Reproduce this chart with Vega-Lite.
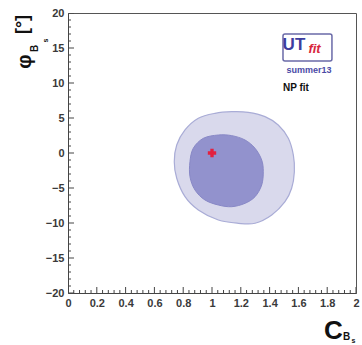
{
  "$schema": "https://vega.github.io/schema/vega-lite/v6.json",
  "width": 288,
  "height": 280,
  "autosize": "none",
  "padding": {"left": 68, "top": 13, "right": 6, "bottom": 52},
  "background": "white",
  "config": {
    "view": {"stroke": "#555555", "strokeWidth": 1},
    "font": "Liberation Sans",
    "axis": {
      "domainColor": "#444444",
      "tickColor": "#444444",
      "labelColor": "#3a3a3a",
      "labelFont": "Liberation Sans",
      "labelFontWeight": "bold",
      "labelFontSize": 11,
      "titleColor": "#111111",
      "titleFont": "Liberation Sans",
      "titleFontWeight": "bold",
      "titleBaseline": "middle",
      "titleAlign": "center",
      "grid": false
    },
    "text": {"font": "Liberation Sans", "fontWeight": "bold", "baseline": "middle", "align": "center"}
  },
  "datasets": {
    "outer": [
      {"c": 1.137, "phi": 5.90, "k": 0},
      {"c": 1.252, "phi": 5.81, "k": 1},
      {"c": 1.368, "phi": 5.19, "k": 2},
      {"c": 1.460, "phi": 4.00, "k": 3},
      {"c": 1.530, "phi": 2.10, "k": 4},
      {"c": 1.565, "phi": -0.29, "k": 5},
      {"c": 1.572, "phi": -2.67, "k": 6},
      {"c": 1.553, "phi": -5.04, "k": 7},
      {"c": 1.507, "phi": -6.96, "k": 8},
      {"c": 1.415, "phi": -8.86, "k": 9},
      {"c": 1.299, "phi": -10.04, "k": 10},
      {"c": 1.183, "phi": -10.04, "k": 11},
      {"c": 1.044, "phi": -9.57, "k": 12},
      {"c": 0.905, "phi": -8.14, "k": 13},
      {"c": 0.8125, "phi": -6.24, "k": 14},
      {"c": 0.755, "phi": -3.61, "k": 15},
      {"c": 0.738, "phi": -1.24, "k": 16},
      {"c": 0.755, "phi": 1.14, "k": 17},
      {"c": 0.8125, "phi": 3.29, "k": 18},
      {"c": 0.905, "phi": 4.96, "k": 19},
      {"c": 1.021, "phi": 5.67, "k": 20}
    ],
    "inner": [
      {"c": 1.044, "phi": 2.57, "k": 0},
      {"c": 1.137, "phi": 2.48, "k": 1},
      {"c": 1.229, "phi": 1.86, "k": 2},
      {"c": 1.299, "phi": 0.67, "k": 3},
      {"c": 1.345, "phi": -1.00, "k": 4},
      {"c": 1.356, "phi": -2.67, "k": 5},
      {"c": 1.345, "phi": -4.57, "k": 6},
      {"c": 1.299, "phi": -6.24, "k": 7},
      {"c": 1.229, "phi": -7.19, "k": 8},
      {"c": 1.137, "phi": -7.67, "k": 9},
      {"c": 1.044, "phi": -7.43, "k": 10},
      {"c": 0.951, "phi": -6.71, "k": 11},
      {"c": 0.882, "phi": -5.29, "k": 12},
      {"c": 0.847, "phi": -3.39, "k": 13},
      {"c": 0.847, "phi": -1.24, "k": 14},
      {"c": 0.870, "phi": 0.67, "k": 15},
      {"c": 0.940, "phi": 2.10, "k": 16}
    ],
    "best": [{"c": 1.0, "phi": 0.0}],
    "logo": [{"c0": 1.493, "c1": 1.833, "p0": 13.14, "p1": 17.0}],
    "cTicksMajor": [{"v": 0}, {"v": 0.2}, {"v": 0.4}, {"v": 0.6}, {"v": 0.8}, {"v": 1}, {"v": 1.2}, {"v": 1.4}, {"v": 1.6}, {"v": 1.8}, {"v": 2}],
    "cTicksMinor": [{"v": 0.04}, {"v": 0.08}, {"v": 0.12}, {"v": 0.16}, {"v": 0.24}, {"v": 0.28}, {"v": 0.32}, {"v": 0.36}, {"v": 0.44}, {"v": 0.48}, {"v": 0.52}, {"v": 0.56}, {"v": 0.64}, {"v": 0.68}, {"v": 0.72}, {"v": 0.76}, {"v": 0.84}, {"v": 0.88}, {"v": 0.92}, {"v": 0.96}, {"v": 1.04}, {"v": 1.08}, {"v": 1.12}, {"v": 1.16}, {"v": 1.24}, {"v": 1.28}, {"v": 1.32}, {"v": 1.36}, {"v": 1.44}, {"v": 1.48}, {"v": 1.52}, {"v": 1.56}, {"v": 1.64}, {"v": 1.68}, {"v": 1.72}, {"v": 1.76}, {"v": 1.84}, {"v": 1.88}, {"v": 1.92}, {"v": 1.96}],
    "phiTicksMajor": [{"v": -20}, {"v": -15}, {"v": -10}, {"v": -5}, {"v": 0}, {"v": 5}, {"v": 10}, {"v": 15}, {"v": 20}],
    "phiTicksMinor": [{"v": -19}, {"v": -18}, {"v": -17}, {"v": -16}, {"v": -14}, {"v": -13}, {"v": -12}, {"v": -11}, {"v": -9}, {"v": -8}, {"v": -7}, {"v": -6}, {"v": -4}, {"v": -3}, {"v": -2}, {"v": -1}, {"v": 1}, {"v": 2}, {"v": 3}, {"v": 4}, {"v": 6}, {"v": 7}, {"v": 8}, {"v": 9}, {"v": 11}, {"v": 12}, {"v": 13}, {"v": 14}, {"v": 16}, {"v": 17}, {"v": 18}, {"v": 19}]
  },
  "layer": [
    {
      "data": {"name": "outer"},
      "mark": {"type": "line", "interpolate": "cardinal-closed", "fill": "#d9d9ec", "stroke": "#a9acd6", "strokeWidth": 1.2},
      "encoding": {
        "x": {"field": "c", "type": "quantitative", "scale": {"domain": [0, 2], "nice": false, "zero": false},
          "axis": {"orient": "bottom", "values": [0, 0.2, 0.4, 0.6, 0.8, 1, 1.2, 1.4, 1.6, 1.8, 2], "format": "~g", "ticks": false, "labelPadding": 4, "labelFlush": false,
            "title": "C", "titleFontSize": 26, "titleX": 265, "titleY": 37}},
        "y": {"field": "phi", "type": "quantitative", "scale": {"domain": [-20, 20], "nice": false, "zero": false},
          "axis": {"orient": "left", "values": [-20, -15, -10, -5, 0, 5, 10, 15, 20], "ticks": false, "labelPadding": 4, "labelFlush": false,
            "title": "φ", "titleFontSize": 20, "titleAngle": 270, "titleX": -44, "titleY": 48}},
        "order": {"field": "k"}
      }
    },
    {
      "data": {"name": "inner"},
      "mark": {"type": "line", "interpolate": "cardinal-closed", "fill": "#9292cd", "stroke": "#8888c6", "strokeWidth": 1},
      "encoding": {
        "x": {"field": "c", "type": "quantitative",
          "axis": {"orient": "bottom", "values": [], "ticks": false, "labels": false, "domain": false,
            "title": "B", "titleFontSize": 10, "titleX": 278, "titleY": 43}},
        "y": {"field": "phi", "type": "quantitative",
          "axis": {"orient": "left", "values": [], "ticks": false, "labels": false, "domain": false,
            "title": "[°]", "titleFontSize": 18, "titleAngle": 270, "titleX": -46, "titleY": 11}},
        "order": {"field": "k"}
      }
    },
    {
      "data": {"name": "best"},
      "mark": {"type": "point", "shape": "cross", "filled": true, "color": "#e3203f", "size": 70, "opacity": 1},
      "encoding": {
        "x": {"field": "c", "type": "quantitative",
          "axis": {"orient": "bottom", "values": [], "ticks": false, "labels": false, "domain": false,
            "title": "s", "titleFontSize": 7, "titleX": 285, "titleY": 47}},
        "y": {"field": "phi", "type": "quantitative",
          "axis": {"orient": "left", "values": [], "ticks": false, "labels": false, "domain": false,
            "title": "B", "titleFontSize": 10, "titleAngle": 270, "titleX": -34, "titleY": 35}}
      }
    },
    {
      "data": {"name": "cTicksMajor"},
      "mark": {"type": "tick", "orient": "vertical", "size": 12, "thickness": 1, "color": "#444444", "opacity": 1, "clip": true},
      "encoding": {
        "x": {"field": "v", "type": "quantitative", "axis": null},
        "y": {"datum": -20, "type": "quantitative", "axis": null}
      }
    },
    {
      "data": {"name": "cTicksMinor"},
      "mark": {"type": "tick", "orient": "vertical", "size": 6, "thickness": 1, "color": "#444444", "opacity": 1, "clip": true},
      "encoding": {
        "x": {"field": "v", "type": "quantitative", "axis": null},
        "y": {"datum": -20, "type": "quantitative", "axis": null}
      }
    },
    {
      "data": {"name": "phiTicksMajor"},
      "mark": {"type": "tick", "orient": "horizontal", "size": 12, "thickness": 1, "color": "#444444", "opacity": 1, "clip": true},
      "encoding": {
        "x": {"datum": 0, "type": "quantitative", "axis": null},
        "y": {"field": "v", "type": "quantitative", "axis": null}
      }
    },
    {
      "data": {"name": "phiTicksMinor"},
      "mark": {"type": "tick", "orient": "horizontal", "size": 6, "thickness": 1, "color": "#444444", "opacity": 1, "clip": true},
      "encoding": {
        "x": {"datum": 0, "type": "quantitative", "axis": null},
        "y": {"field": "v", "type": "quantitative", "axis": null}
      }
    },
    {
      "data": {"name": "logo"},
      "mark": {"type": "rect", "fill": "white", "stroke": "#6a6aa8", "strokeWidth": 1.5, "cornerRadius": 2},
      "encoding": {
        "x": {"field": "c0", "type": "quantitative", "axis": null},
        "x2": {"field": "c1"},
        "y": {"field": "p0", "type": "quantitative",
          "axis": {"orient": "right", "offset": -288, "values": [], "ticks": false, "labels": false, "domain": false,
            "title": "s", "titleFontSize": 7, "titleAngle": 270, "titleX": -23, "titleY": 27}},
        "y2": {"field": "p1"}
      }
    },
    {
      "data": {"values": [{"c": 1.569, "phi": 15.43, "t": "UT"}]},
      "mark": {"type": "text", "fontSize": 17, "color": "#3d3d9e"},
      "encoding": {
        "x": {"field": "c", "type": "quantitative", "axis": null},
        "y": {"field": "phi", "type": "quantitative", "axis": null},
        "text": {"field": "t"}
      }
    },
    {
      "data": {"values": [{"c": 1.712, "phi": 14.9, "t": "fit"}]},
      "mark": {"type": "text", "fontSize": 13, "fontStyle": "italic", "color": "#d8263c"},
      "encoding": {
        "x": {"field": "c", "type": "quantitative", "axis": null},
        "y": {"field": "phi", "type": "quantitative", "axis": null},
        "text": {"field": "t"}
      }
    },
    {
      "data": {"values": [{"c": 1.674, "phi": 11.86, "t": "summer13"}]},
      "mark": {"type": "text", "fontSize": 9, "color": "#4a4aa6"},
      "encoding": {
        "x": {"field": "c", "type": "quantitative", "axis": null},
        "y": {"field": "phi", "type": "quantitative", "axis": null},
        "text": {"field": "t"}
      }
    },
    {
      "data": {"values": [{"c": 1.583, "phi": 9.29, "t": "NP fit"}]},
      "mark": {"type": "text", "fontSize": 10, "color": "#111111"},
      "encoding": {
        "x": {"field": "c", "type": "quantitative", "axis": null},
        "y": {"field": "phi", "type": "quantitative", "axis": null},
        "text": {"field": "t"}
      }
    }
  ],
  "resolve": {"axis": {"x": "independent", "y": "independent"}}
}
